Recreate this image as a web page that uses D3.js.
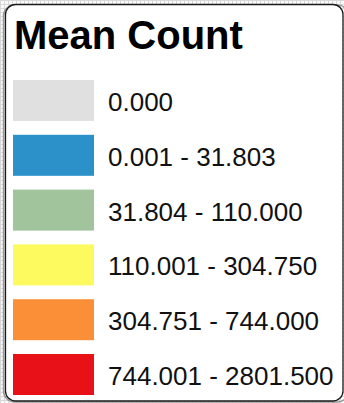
<!DOCTYPE html>
<html>
<head>
<meta charset="utf-8">
<script src="https://cdn.jsdelivr.net/npm/d3@7"></script>
<style>
  html, body { margin: 0; padding: 0; background: #fff; }
  svg { display: block; }
</style>
</head>
<body>
<svg id="legend" width="344" height="403"></svg>
<script>
// Class breaks for the mean count choropleth
const title = "Mean Count";
const classLabels = [
  "0.000",
  "0.001 - 31.803",
  "31.804 - 110.000",
  "110.001 - 304.750",
  "304.751 - 744.000",
  "744.001 - 2801.500"
];
const classColors = ["#e0e0e0", "#2b91c8", "#a1c49d", "#fcfa5f", "#fb8f37", "#e81118"];

const W = 344, H = 403;
const svg = d3.select("#legend");

// faint map grid peeking out behind the legend panel
const defs = svg.append("defs");
const pat = defs.append("pattern")
  .attr("id", "grid").attr("width", 4).attr("height", 4)
  .attr("patternUnits", "userSpaceOnUse");
pat.append("rect").attr("width", 4).attr("height", 4).attr("fill", "#fafafa");
pat.append("path").attr("d", "M0,0.5H4M0.5,0V4")
  .attr("stroke", "#d8d8d8").attr("stroke-width", 1);
svg.append("rect").attr("width", W).attr("height", H).attr("fill", "url(#grid)");

// legend panel with a soft shadow on its left edge
svg.append("rect")
  .attr("x", 3.5).attr("y", 5).attr("width", 345).attr("height", 397)
  .attr("rx", 11).attr("fill", "none")
  .attr("stroke", "#9a9a9a").attr("stroke-width", 1.5);
svg.append("rect")
  .attr("x", 5.5).attr("y", 4.5).attr("width", 337.5).attr("height", 396.5)
  .attr("rx", 10).attr("fill", "#fff")
  .attr("stroke", "#1a1a1a").attr("stroke-width", 1.3);

svg.append("text")
  .attr("x", 14).attr("y", 49)
  .attr("font-family", "Liberation Sans, Arial, sans-serif")
  .attr("font-weight", "bold").attr("font-size", 40)
  .attr("fill", "#000")
  .text(title);

// row positions: one swatch per class, evenly stepped
const y = d3.scaleLinear()
  .domain([0, classLabels.length - 1])
  .range([80, 354]);

const color = d3.scaleOrdinal().domain(classLabels).range(classColors);

const rows = svg.append("g").selectAll("g")
  .data(classLabels).join("g")
  .attr("transform", (d, i) => `translate(0,${y(i)})`);

rows.append("rect")
  .attr("x", 13).attr("width", 81)
  .attr("height", 41)
  .attr("fill", d => color(d));

rows.append("text")
  .attr("x", 108).attr("y", 31)
  .attr("font-family", "Liberation Sans, Arial, sans-serif")
  .attr("font-size", 26).attr("fill", "#111")
  .text(d => d);
</script>
</body>
</html>
